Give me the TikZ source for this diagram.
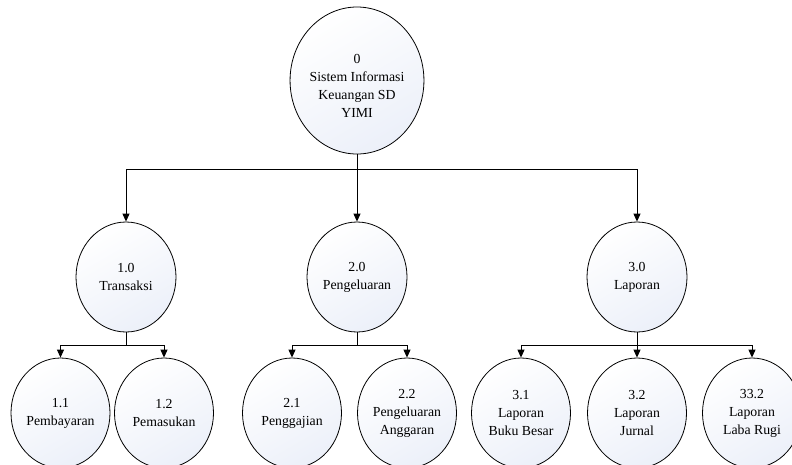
\documentclass[tikz,border=0pt]{standalone}
\usepackage{fontspec}
\setmainfont{Liberation Serif}
\newfontfamily\procfont{Liberation Serif}
\usetikzlibrary{shapes.geometric,arrows.meta}
\definecolor{procfill}{RGB}{236,240,249}
\begin{document}
\begin{tikzpicture}[x=1pt,y=-1pt,
  proc/.style={ellipse,draw=black,line width=0.8pt,inner sep=0pt,align=center,
    top color=white,bottom color=procfill,shading angle=30,
    font=\procfont\fontsize{13.8}{18}\selectfont},
  rootproc/.style={proc,minimum width=117pt,minimum height=147pt},
  midproc/.style={proc,minimum width=100pt,minimum height=110pt},
  leafproc/.style={proc,minimum width=99pt,minimum height=110pt},
  flow/.style={line width=0.9pt},
  arr/.style={flow,-{Triangle[width=7pt,length=8pt]}}
]
\useasboundingbox (0,0) rectangle (792,464);

% context process (strut lowers the text block a little)
\node[rootproc] (n0) at (357,80.5) {\rule{0pt}{19pt}0\\Sistem Informasi\\Keuangan SD\\YIMI};

% first-level processes
\node[midproc] (n1) at (126,277) {1.0\\Transaksi};
\node[midproc] (n2) at (357,277) {2.0\\Pengeluaran};
\node[midproc] (n3) at (637,277) {3.0\\Laporan};

% second-level processes
\node[leafproc] (n11) at (60.5,413) {1.1\\Pembayaran};
\node[leafproc] (n12) at (164,413) {1.2\\Pemasukan};
\node[leafproc] (n21) at (292,413) {2.1\\Penggajian};
\node[leafproc] (n22) at (407,413) {2.2\\Pengeluaran\\Anggaran};
\node[leafproc] (n31) at (521,413) {3.1\\Laporan\\Buku Besar};
\node[leafproc] (n32) at (637,413) {3.2\\Laporan\\Jurnal};
\node[leafproc] (n33) at (752,413) {33.2\\Laporan\\Laba Rugi};

% branch points
\coordinate (b0) at (n0.south |- 0,169);
\coordinate (b1) at (n1.south |- 0,345);
\coordinate (b2) at (n2.south |- 0,345);
\coordinate (b3) at (n3.south |- 0,345);

% decomposition connectors
\draw[flow] (n0.south) -- (b0);
\draw[arr] (b0) -| (n1.north);
\draw[arr] (b0) -- (n2.north);
\draw[arr] (b0) -| (n3.north);

\draw[flow] (n1.south) -- (b1);
\draw[arr] (b1) -| (n11.north);
\draw[arr] (b1) -| (n12.north);

\draw[flow] (n2.south) -- (b2);
\draw[arr] (b2) -| (n21.north);
\draw[arr] (b2) -| (n22.north);

\draw[flow] (n3.south) -- (b3);
\draw[arr] (b3) -| (n31.north);
\draw[arr] (b3) -- (n32.north);
\draw[arr] (b3) -| (n33.north);
\end{tikzpicture}
\end{document}
